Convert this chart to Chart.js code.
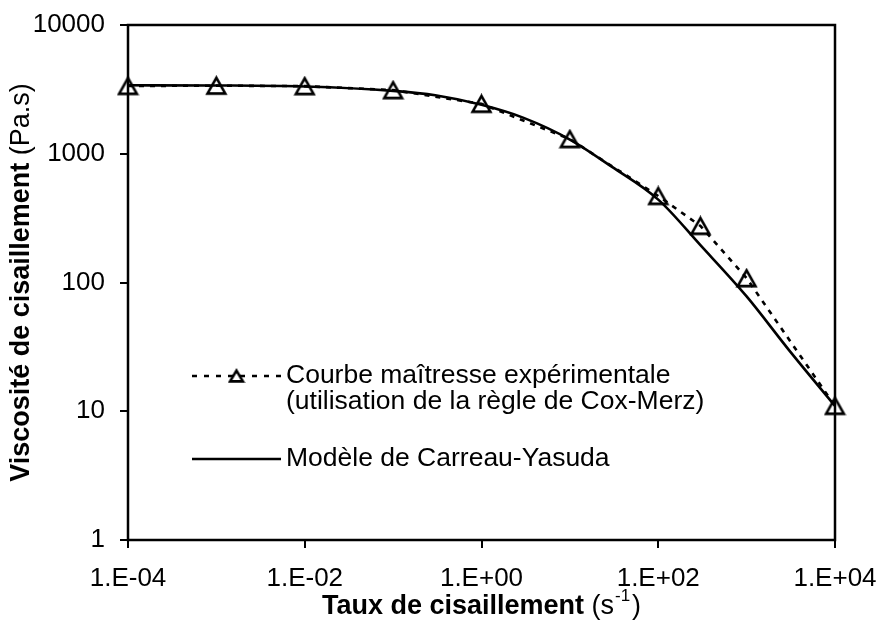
<!DOCTYPE html>
<html>
<head>
<meta charset="utf-8">
<script src="https://cdn.jsdelivr.net/npm/chart.js@4.4.1/dist/chart.umd.min.js"></script>
<style>
  html, body { margin: 0; padding: 0; background: #fff; }
  #wrap { width: 881px; height: 623px; }
</style>
</head>
<body>
<div id="wrap"><canvas id="chart" width="881" height="623"></canvas></div>
<script>
// master curve from oscillatory data (Cox-Merz), shear rate in 1/s, viscosity in Pa.s
const expRate = [1e-4, 1e-3, 1e-2, 1e-1, 1, 10, 100, 300, 1000, 10000];
const expVisc = [3360, 3380, 3350, 3120, 2440, 1300, 470, 275, 108, 11];

// Carreau-Yasuda fit, sampled every half decade
const fitRate = [1e-4, 1e-3, 1e-2, 1e-1, 0.3, 1, 3, 10, 30, 100, 300, 1000, 3000, 10000];
const fitVisc = [3400, 3390, 3330, 3080, 2850, 2400, 1900, 1290, 790, 440, 195, 78, 30, 11];

const xTicks = [1e-4, 1e-2, 1, 1e2, 1e4];
const xTickLabels = ['1.E-04', '1.E-02', '1.E+00', '1.E+02', '1.E+04'];
const yTicks = [1, 10, 100, 1000, 10000];
const yTickLabels = ['1', '10', '100', '1000', '10000'];

const expLabel = ['Courbe maîtresse expérimentale', '(utilisation de la règle de Cox-Merz)'];
const fitLabel = 'Modèle de Carreau-Yasuda';

const FAMILY = '"Liberation Sans", Arial, sans-serif';
const TICK_PX = 26;
const KEY_PX = 26.5;
const TITLE_PX = 27;

// hollow triangle marker, centred on its bounding box
function triangleMark(w, h, lw) {
  const c = document.createElement('canvas');
  c.width = Math.ceil(w + lw * 2);
  c.height = Math.ceil(h + lw * 2);
  const g = c.getContext('2d');
  g.strokeStyle = '#000';
  g.lineWidth = lw;
  g.lineJoin = 'miter';
  g.beginPath();
  g.moveTo(c.width / 2, lw);
  g.lineTo(c.width - lw, c.height - lw);
  g.lineTo(lw, c.height - lw);
  g.closePath();
  g.stroke();
  return c;
}

const plotMark = triangleMark(17, 15, 2.6);
const keyMark = triangleMark(12, 10, 2.6);

// plot frame drawn on all four sides
const frame = {
  id: 'frame',
  beforeDatasetsDraw(chart) {
    const { ctx, chartArea: a } = chart;
    ctx.save();
    ctx.strokeStyle = '#000';
    ctx.lineWidth = 2.5;
    ctx.strokeRect(a.left, a.top, a.right - a.left, a.bottom - a.top);
    ctx.restore();
  }
};

// legend block inside the lower left of the plot
const keyBox = {
  id: 'keyBox',
  afterDatasetsDraw(chart) {
    const { ctx, chartArea: a } = chart;
    const x0 = a.left + 64, x1 = a.left + 153, tx = a.left + 158;
    const y1 = a.top + 351, y2 = a.top + 377, y3 = a.top + 434;
    ctx.save();
    ctx.strokeStyle = '#000';
    ctx.lineWidth = 2.5;

    ctx.setLineDash([5, 7]);
    ctx.beginPath();
    ctx.moveTo(x0, y1);
    ctx.lineTo(x1, y1);
    ctx.stroke();
    ctx.setLineDash([]);
    ctx.drawImage(keyMark, (x0 + x1) / 2 - keyMark.width / 2, y1 - keyMark.height / 2);

    ctx.beginPath();
    ctx.moveTo(x0, y3);
    ctx.lineTo(x1, y3);
    ctx.stroke();

    ctx.fillStyle = '#000';
    ctx.font = KEY_PX + 'px ' + FAMILY;
    ctx.textAlign = 'left';
    ctx.textBaseline = 'middle';
    ctx.fillText(expLabel[0], tx, y1);
    ctx.fillText(expLabel[1], tx, y2);
    ctx.fillText(fitLabel, tx, y3);
    ctx.restore();
  }
};

// axis titles: bold name followed by the unit in regular weight
const axisTitles = {
  id: 'axisTitles',
  afterDraw(chart) {
    const { ctx, chartArea: a } = chart;
    const bold = 'bold ' + TITLE_PX + 'px ' + FAMILY;
    const norm = TITLE_PX + 'px ' + FAMILY;
    const small = '17px ' + FAMILY;
    ctx.save();
    ctx.fillStyle = '#000';
    ctx.textBaseline = 'alphabetic';
    ctx.textAlign = 'left';

    // x title
    const xa = 'Taux de cisaillement', xb = ' (s', xc = '-1', xd = ')';
    ctx.font = bold; const wa = ctx.measureText(xa).width;
    ctx.font = norm; const wb = ctx.measureText(xb).width; const wd = ctx.measureText(xd).width;
    ctx.font = small; const wc = ctx.measureText(xc).width + 3;
    let x = (a.left + a.right) / 2 - (wa + wb + wc + wd) / 2;
    const base = 614;
    ctx.font = bold; ctx.fillText(xa, x, base); x += wa;
    ctx.font = norm; ctx.fillText(xb, x, base); x += wb;
    ctx.font = small; ctx.fillText(xc, x + 1, base - 13); x += wc;
    ctx.font = norm; ctx.fillText(xd, x, base);

    // y title, rotated
    const ya = 'Viscosité de cisaillement', yb = ' (Pa.s)';
    ctx.font = bold; const va = ctx.measureText(ya).width;
    ctx.font = norm; const vb = ctx.measureText(yb).width;
    ctx.translate(22, (a.top + a.bottom) / 2);
    ctx.rotate(-Math.PI / 2);
    ctx.textBaseline = 'middle';
    let y = -(va + vb) / 2;
    ctx.font = bold; ctx.fillText(ya, y, 0); y += va;
    ctx.font = norm; ctx.fillText(yb, y, 0);
    ctx.restore();
  }
};

const tickFont = { family: FAMILY, size: TICK_PX };

new Chart(document.getElementById('chart'), {
  type: 'line',
  data: {
    datasets: [
      {
        label: fitLabel,
        data: fitRate.map((r, i) => ({ x: r, y: fitVisc[i] })),
        borderColor: '#000',
        borderWidth: 2.6,
        pointRadius: 0,
        cubicInterpolationMode: 'monotone',
        fill: false,
        clip: false
      },
      {
        label: expLabel.join(' '),
        data: expRate.map((r, i) => ({ x: r, y: expVisc[i] })),
        borderColor: '#000',
        borderWidth: 2.6,
        borderDash: [5, 6],
        tension: 0,
        pointStyle: plotMark,
        pointRadius: 10,
        fill: false,
        clip: false
      }
    ]
  },
  options: {
    responsive: false,
    animation: false,
    devicePixelRatio: 1,
    layout: { padding: { top: 25, right: 46, bottom: 0, left: 0 } },
    plugins: { legend: { display: false }, tooltip: { enabled: false } },
    scales: {
      x: {
        type: 'logarithmic',
        min: 1e-4,
        max: 1e4,
        afterBuildTicks: s => { s.ticks = xTicks.map(v => ({ value: v })); },
        afterFit: s => { s.height = 83; s.paddingLeft = 0; s.paddingRight = 0; },
        ticks: {
          color: '#000',
          font: tickFont,
          padding: 15,
          maxRotation: 0,
          autoSkip: false,
          callback: v => xTickLabels[xTicks.indexOf(v)]
        },
        grid: { drawOnChartArea: false, drawTicks: true, tickLength: 8, color: '#000', lineWidth: 2 },
        border: { display: false }
      },
      y: {
        type: 'logarithmic',
        min: 1,
        max: 10000,
        afterBuildTicks: s => { s.ticks = yTicks.map(v => ({ value: v })); },
        afterFit: s => { s.width = 128; s.paddingTop = 0; s.paddingBottom = 0; },
        ticks: {
          color: '#000',
          font: tickFont,
          padding: 15,
          autoSkip: false,
          callback: v => yTickLabels[yTicks.indexOf(v)]
        },
        grid: { drawOnChartArea: false, drawTicks: true, tickLength: 8, color: '#000', lineWidth: 2 },
        border: { display: false }
      }
    }
  },
  plugins: [frame, keyBox, axisTitles]
});
</script>
</body>
</html>
